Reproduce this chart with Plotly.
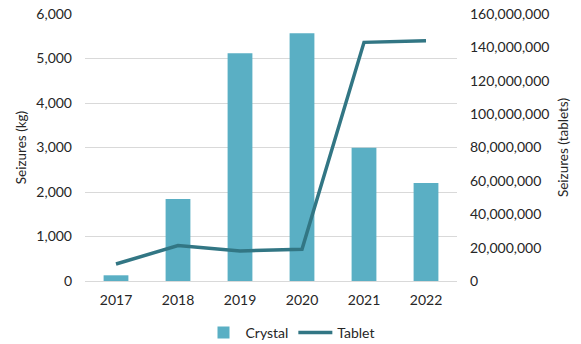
import plotly.graph_objects as go

years = ["2017", "2018", "2019", "2020", "2021", "2022"]
crystal_kg = [128, 1843, 5116, 5566, 2996, 2202]
tablet_count = [10200000, 21200000, 18000000, 19000000, 143000000, 144000000]

left_ticks = [0, 1000, 2000, 3000, 4000, 5000, 6000]
right_ticks = [0, 20000000, 40000000, 60000000, 80000000, 100000000, 120000000, 140000000, 160000000]

FONT = "Lato"
fig = go.Figure()
fig.add_trace(go.Bar(x=years, y=crystal_kg, name="Crystal", marker_color="#5AAFC4",
                     marker_line_width=0, yaxis="y"))
fig.add_trace(go.Scatter(x=years, y=tablet_count, name="Tablet", mode="lines",
                         line=dict(color="#327684", width=3.5), yaxis="y2"))

fig.update_layout(
    width=581, height=344,
    margin=dict(l=85, r=124, t=14, b=63, autoexpand=False),
    paper_bgcolor="white", plot_bgcolor="white",
    font=dict(family=FONT, size=14, color="#262626"),
    bargap=0.6,
    showlegend=True,
    legend=dict(orientation="h", x=0.5, xanchor="center", xref="container",
                y=0.032, yanchor="middle", yref="container",
                font=dict(size=14), traceorder="normal", itemwidth=34),
    xaxis=dict(type="category", showgrid=False, showline=True, linecolor="#D9D9D9",
               linewidth=1, ticks="", tickfont=dict(size=14), automargin=False,
               ticklabelstandoff=6),
    yaxis=dict(range=[0, 6000], tickvals=left_ticks, tickformat=",d",
               showgrid=True, gridcolor="#D9D9D9", gridwidth=1, zeroline=False,
               title=dict(text="Seizures (kg)", standoff=6, font=dict(size=13.5)), ticks="",
               ticklabelstandoff=12, automargin=False),
    yaxis2=dict(range=[0, 160000000], tickvals=right_ticks, tickformat=",d",
                overlaying="y", side="right", showgrid=False, zeroline=False,
                title=dict(text="Seizures (tablets)", standoff=10, font=dict(size=13.5)), ticks="",
                ticklabelstandoff=12, automargin=False),
)
fig.write_html("out.html", config={"displayModeBar": False},
               post_script="document.body.style.margin='0';document.body.style.padding='0';")
